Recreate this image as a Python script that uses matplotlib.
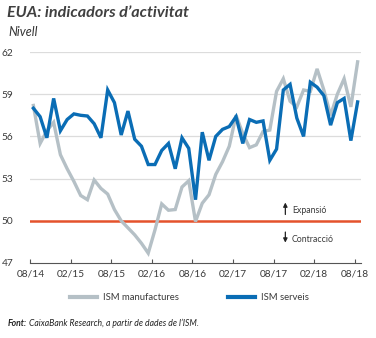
import matplotlib
matplotlib.use("Agg")
import matplotlib.pyplot as plt
import numpy as np
from matplotlib.lines import Line2D

plt.rcParams['font.family'] = ['Lato', 'DejaVu Sans']

# Monthly data, 08/2014 .. 08/2018
manufactures = [58.2, 55.5, 56.4, 57.0, 54.7, 53.7, 52.8, 51.8, 51.5, 52.9,
                52.3, 51.9, 50.8, 50.0, 49.5, 49.0, 48.4, 47.7, 49.35, 51.2,
                50.75, 50.8, 52.4, 52.85, 49.95, 51.25, 51.85, 53.3, 54.2, 55.3,
                57.5, 56.2, 55.2, 55.4, 56.35, 56.45, 59.2, 60.1, 58.5, 58.1,
                59.3, 59.2, 60.8, 59.3, 57.5, 59.0, 60.1, 58.1, 61.3]
serveis = [58.0, 57.4, 55.9, 58.7, 56.4, 57.2, 57.6, 57.5, 57.45, 56.9,
           55.9, 59.3, 58.4, 56.1, 57.8, 55.8, 55.3, 54.0, 54.0, 55.0,
           55.5, 53.7, 55.9, 55.15, 51.5, 56.3, 54.3, 56.0, 56.5, 56.7,
           57.4, 55.5, 57.2, 57.0, 57.1, 54.3, 55.1, 59.3, 59.7, 57.3,
           56.0, 59.85, 59.5, 58.9, 56.8, 58.4, 58.7, 55.7, 58.45]
tick_labels = ['08/14', '02/15', '08/15', '02/16', '08/16', '02/17', '08/17', '02/18', '08/18']
y_ticks = [47, 50, 53, 56, 59, 62]
threshold = 50

GREY = '#b5c0c6'
BLUE = '#0a6db5'
RED = '#e4522c'
TXT = '#3a3a3a'

fig = plt.figure(figsize=(3.76, 3.38), dpi=100)
ax = fig.add_axes([30/376, 1-263/338, (361-30)/376, (263-52)/338])

x = np.arange(len(serveis))
ax.plot(x, manufactures, color=GREY, lw=2.4, solid_joinstyle='miter', zorder=3)
ax.plot(x, serveis, color=BLUE, lw=2.4, solid_joinstyle='miter', zorder=4)
ax.axhline(threshold, color=RED, lw=1.8, zorder=2)

ax.set_xlim(-0.5, 48.5)
ax.set_ylim(47, 62)
ax.set_yticks(y_ticks)
ax.set_yticklabels([str(v) for v in y_ticks])
for v in y_ticks[2:]:
    ax.axhline(v, color='#dcdcdc', lw=0.9, zorder=1)

tick_pos = [6*k - 0.45 for k in range(len(tick_labels))]
ax.set_xticks(tick_pos)
ax.set_xticklabels(tick_labels)

for s in ['top', 'right', 'left']:
    ax.spines[s].set_visible(False)
ax.spines['bottom'].set_color('#555555')
ax.spines['bottom'].set_linewidth(0.8)
ax.tick_params(axis='x', direction='in', length=3, width=0.8, color='#555555',
               labelsize=7.3, labelcolor=TXT, pad=5)
ax.tick_params(axis='y', length=0, labelsize=7.3, labelcolor=TXT, pad=12)

# Expansion / contraction annotations
ax.annotate('', xy=(37.3, 51.3), xytext=(37.3, 50.45),
            arrowprops=dict(arrowstyle='-|>', color='#222222', lw=0.9,
                            mutation_scale=6, shrinkA=0, shrinkB=0))
ax.text(38.3, 50.75, 'Expansió', fontsize=6.3, color=TXT, va='center', ha='left')
ax.annotate('', xy=(37.3, 48.45), xytext=(37.3, 49.2),
            arrowprops=dict(arrowstyle='-|>', color='#222222', lw=0.9,
                            mutation_scale=6, shrinkA=0, shrinkB=0))
ax.text(38.3, 48.7, 'Contracció', fontsize=6.3, color=TXT, va='center', ha='left')

# Titles
fig.text(7/376, 1-13/338, 'EUA: indicadors d’activitat', fontsize=11.6, fontweight='bold',
         fontstyle='italic', color='#404040', va='center', ha='left')
fig.text(8/376, 1-32/338, 'Nivell', fontsize=9, fontstyle='italic', color='#333333',
         va='center', ha='left')

# Legend
handles = [Line2D([], [], color=GREY, lw=3),
           Line2D([], [], color=BLUE, lw=3)]
fig.legend(handles, ['ISM manufactures', 'ISM serveis'], loc='center',
           bbox_to_anchor=(189/376, 1-298/338), ncol=2, frameon=False, fontsize=6.8,
           handlelength=2.9, handletextpad=0.6, columnspacing=5.2, labelcolor=TXT)

# Source
fig.text(8/376, 1-323/338, 'Font:', fontsize=6.2, fontweight='bold', fontstyle='italic',
         color='#222222', va='center', ha='left')
fig.text(28.5/376, 1-323/338, 'CaixaBank Research, a partir de dades de l’ISM.', fontsize=6.2,
         fontstyle='italic', color='#222222', va='center', ha='left')

fig.savefig('out.png', dpi=100)
